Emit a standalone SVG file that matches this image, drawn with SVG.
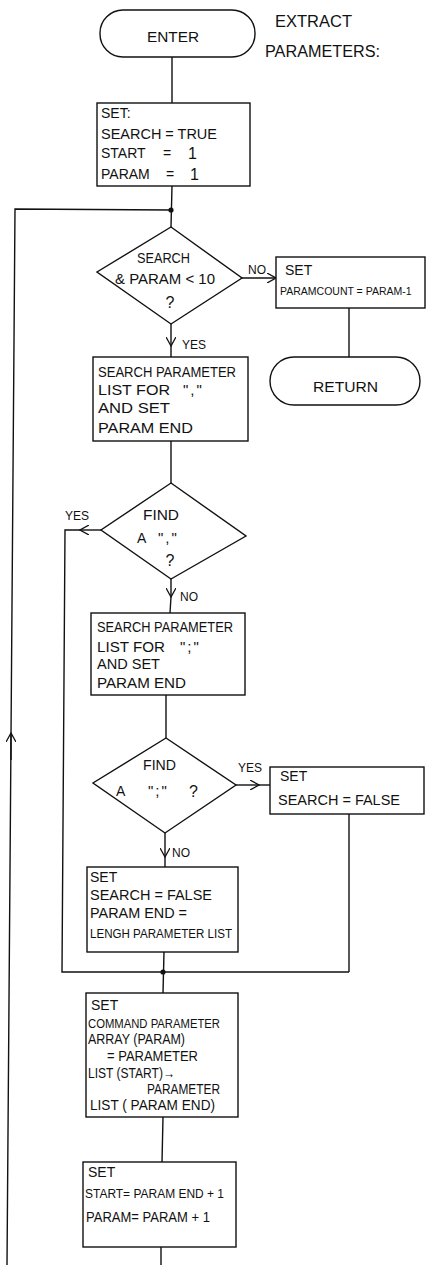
<svg xmlns="http://www.w3.org/2000/svg" width="427" height="1265" viewBox="0 0 427 1265" xml:space="preserve">
<style>
.s{fill:none;stroke:#111;stroke-width:1.4;}
.n{fill:#fff;stroke:#111;stroke-width:1.4;}
text{font-family:"Liberation Sans",Arial,sans-serif;font-size:14px;fill:#111;}
.c{text-anchor:middle;}
.sm{font-size:12px;}
.xs{font-size:10.5px;}
.md{font-size:15px;}
.big{font-size:16px;}
.q{font-size:15px;letter-spacing:2px;}
.dot{fill:#111;}
</style>
<defs>
<marker id="arr" viewBox="0 0 10 10" refX="9" refY="5" markerWidth="10" markerHeight="10" markerUnits="userSpaceOnUse" orient="auto">
<path d="M0,0 L9,5 L0,10" fill="none" stroke="#111" stroke-width="1.3"/>
</marker>
</defs>
<rect width="427" height="1265" fill="#fff"/>
<g id="connectors">
<line class="s" x1="172" y1="57" x2="172" y2="103"/>
<line class="s" x1="172" y1="186" x2="171" y2="227"/>
<polyline class="s" points="171,210 15,209 7,1265"/>
<line class="s" x1="11" y1="760" x2="11" y2="733" marker-end="url(#arr)"/>
<line class="s" x1="242" y1="278" x2="276" y2="278" marker-end="url(#arr)"/>
<line class="s" x1="349" y1="308" x2="349" y2="357"/>
<line class="s" x1="171" y1="324" x2="171" y2="346" marker-end="url(#arr)"/>
<line class="s" x1="171" y1="346" x2="171" y2="357"/>
<line class="s" x1="171" y1="441" x2="171" y2="483"/>
<line class="s" x1="101" y1="530" x2="80" y2="530" marker-end="url(#arr)"/>
<polyline class="s" points="80,530 65,530 62,972 349,972"/>
<line class="s" x1="171" y1="579" x2="171" y2="597" marker-end="url(#arr)"/>
<line class="s" x1="171" y1="597" x2="170" y2="613"/>
<line class="s" x1="166" y1="695" x2="166" y2="738"/>
<line class="s" x1="236" y1="785" x2="259" y2="785" marker-end="url(#arr)"/>
<line class="s" x1="259" y1="785" x2="270" y2="785"/>
<line class="s" x1="349" y1="814" x2="349" y2="972"/>
<line class="s" x1="165" y1="833" x2="165" y2="857" marker-end="url(#arr)"/>
<line class="s" x1="165" y1="857" x2="165" y2="867"/>
<line class="s" x1="164" y1="952" x2="163" y2="993"/>
<line class="s" x1="163" y1="1117" x2="162" y2="1162"/>
<line class="s" x1="161" y1="1247" x2="161" y2="1265"/>
<circle class="dot" cx="171" cy="210" r="2.6"/>
<circle class="dot" cx="163" cy="972" r="2.6"/>
<text x="248" y="274" class="sm">NO</text>
<text x="182" y="349" class="sm">YES</text>
<text x="65" y="520" class="sm">YES</text>
<text x="180" y="601" class="sm">NO</text>
<text x="238" y="772" class="sm">YES</text>
<text x="172" y="857" class="sm">NO</text>
</g>
<g id="title">
<text x="275" y="27" class="big" textLength="77" lengthAdjust="spacingAndGlyphs">EXTRACT</text>
<text x="265" y="57" class="big" textLength="115" lengthAdjust="spacingAndGlyphs">PARAMETERS:</text>
</g>
<g id="enter">
<rect class="n" x="100" y="10" width="155" height="47" rx="23"/>
<text x="147" y="42" class="md" textLength="52" lengthAdjust="spacingAndGlyphs">ENTER</text>
</g>
<g id="init">
<rect class="n" x="97" y="103" width="153" height="83"/>
<text x="101" y="118">SET:</text>
<text x="101" y="139" textLength="116" lengthAdjust="spacingAndGlyphs">SEARCH = TRUE</text>
<text x="101" y="158">START</text><text x="163" y="158">=</text><text x="188" y="159" class="big">1</text>
<text x="101" y="179">PARAM</text><text x="166" y="179">=</text><text x="190" y="180" class="big">1</text>
</g>
<g id="check-search">
<polygon class="n" points="171,227 242,278 171,324 97,272"/>
<text x="137" y="263" textLength="53" lengthAdjust="spacingAndGlyphs">SEARCH</text>
<text x="115" y="284" textLength="100" lengthAdjust="spacingAndGlyphs">&amp; PARAM &lt; 10</text>
<text x="170" y="308" class="c big">?</text>
</g>
<g id="set-count">
<rect class="n" x="276" y="257" width="149" height="51"/>
<text x="285" y="275">SET</text>
<text x="280" y="295" class="xs">PARAMCOUNT = PARAM-1</text>
</g>
<g id="return">
<rect class="n" x="270" y="357" width="150" height="48" rx="24"/>
<text x="313" y="392" class="md" textLength="65" lengthAdjust="spacingAndGlyphs">RETURN</text>
</g>
<g id="search-comma">
<rect class="n" x="93" y="357" width="155" height="84"/>
<text x="98" y="377" textLength="138" lengthAdjust="spacingAndGlyphs">SEARCH PARAMETER</text>
<text x="98" y="395" textLength="72" lengthAdjust="spacingAndGlyphs">LIST  FOR</text>
<text x="183" y="395" class="q">","</text>
<text x="98" y="413" textLength="72" lengthAdjust="spacingAndGlyphs">AND  SET</text>
<text x="98" y="433" textLength="95" lengthAdjust="spacingAndGlyphs">PARAM  END</text>
</g>
<g id="find-comma">
<polygon class="n" points="171,483 246,536 171,579 101,530"/>
<text x="143" y="520" textLength="36" lengthAdjust="spacingAndGlyphs">FIND</text>
<text x="137" y="543">A</text>
<text x="158" y="543" class="q">","</text>
<text x="170" y="566" class="c big">?</text>
</g>
<g id="search-semicolon">
<rect class="n" x="91" y="613" width="154" height="82"/>
<text x="97" y="632" textLength="136" lengthAdjust="spacingAndGlyphs">SEARCH PARAMETER</text>
<text x="97" y="652" textLength="68" lengthAdjust="spacingAndGlyphs">LIST  FOR</text>
<text x="180" y="652" class="q">";"</text>
<text x="97" y="669" textLength="63" lengthAdjust="spacingAndGlyphs">AND  SET</text>
<text x="97" y="688" textLength="89" lengthAdjust="spacingAndGlyphs">PARAM  END</text>
</g>
<g id="find-semicolon">
<polygon class="n" points="166,738 236,785 165,833 93,783"/>
<text x="143" y="770" textLength="33" lengthAdjust="spacingAndGlyphs">FIND</text>
<text x="116" y="796">A</text>
<text x="148" y="796" class="q">";"</text>
<text x="189" y="797" class="big">?</text>
</g>
<g id="set-false">
<rect class="n" x="270" y="767" width="154" height="47"/>
<text x="280" y="781">SET</text>
<text x="278" y="805" textLength="122" lengthAdjust="spacingAndGlyphs">SEARCH = FALSE</text>
</g>
<g id="set-false-end">
<rect class="n" x="87" y="867" width="151" height="85"/>
<text x="90" y="882">SET</text>
<text x="90" y="900" textLength="122" lengthAdjust="spacingAndGlyphs">SEARCH  =  FALSE</text>
<text x="90" y="918" textLength="97" lengthAdjust="spacingAndGlyphs">PARAM END  =</text>
<text x="90" y="938" class="sm" textLength="142" lengthAdjust="spacingAndGlyphs">LENGH PARAMETER LIST</text>
</g>
<g id="set-array">
<rect class="n" x="86" y="993" width="152" height="124"/>
<text x="91" y="1010">SET</text>
<text x="88" y="1028" class="sm" textLength="132" lengthAdjust="spacingAndGlyphs">COMMAND PARAMETER</text>
<text x="88" y="1044" textLength="97" lengthAdjust="spacingAndGlyphs">ARRAY (PARAM)</text>
<text x="107" y="1061" textLength="91" lengthAdjust="spacingAndGlyphs">=  PARAMETER</text>
<text x="88" y="1078" textLength="87" lengthAdjust="spacingAndGlyphs">LIST (START)→</text>
<text x="147" y="1094" textLength="73" lengthAdjust="spacingAndGlyphs">PARAMETER</text>
<text x="90" y="1110" textLength="125" lengthAdjust="spacingAndGlyphs">LIST ( PARAM END)</text>
</g>
<g id="set-next">
<rect class="n" x="83" y="1162" width="153" height="85"/>
<text x="88" y="1177">SET</text>
<text x="85" y="1198" class="sm" textLength="139" lengthAdjust="spacingAndGlyphs">START= PARAM END + 1</text>
<text x="86" y="1222" textLength="124" lengthAdjust="spacingAndGlyphs">PARAM= PARAM + 1</text>
</g>
</svg>
